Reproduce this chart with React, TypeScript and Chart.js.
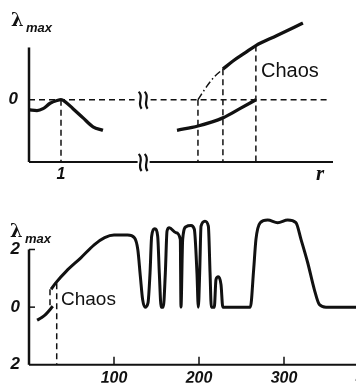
import React, { useEffect, useRef } from 'react';
import { Chart, registerables } from 'chart.js';

Chart.register(...registerables);

// ---------- Top panel (λmax vs r, with axis break) ----------
const topLeftR = [0, 0.25, 0.44, 0.66, 0.875, 1.0, 1.125, 1.375, 1.69, 2.0, 2.31];
const topLeftL = [-0.37, -0.4, -0.33, -0.13, -0.03, 0, -0.07, -0.33, -0.67, -1.0, -1.13];
const topLowR = [4.625, 5.28, 6.06, 6.59, 7.09];
const topLowL = [-1.13, -0.97, -0.67, -0.33, 0];
const topDashDotR = [5.28, 5.56, 5.81, 6.06];
const topDashDotL = [0, 0.5, 0.87, 1.13];
const topUpR = [6.06, 6.375, 6.75, 7.09, 7.75, 8.56];
const topUpL = [1.13, 1.43, 1.73, 2.0, 2.37, 2.83];
const topMarkR = [1.0, 5.28, 6.06, 7.09];
const topMarkL = [0, 0, 1.13, 2.0];
const topTickR = [1];
const topTickL = [0];

// ---------- Bottom panel (λmax vs parameter) ----------
const botLowX = [9.5, 15, 20, 28];
const botLowY = [-0.45, -0.36, -0.24, 0.03];
const botX = [26, 32, 44, 61, 77, 89, 100, 116, 124, 128, 131, 133.7, 136.5, 140, 142.4, 144.3, 148, 151.4, 153.3, 155.5, 158, 160.4, 162.4, 165, 173, 178, 178.8, 180.8, 184.7, 190.6, 194.5, 197.6, 199.2, 200.8, 202.4, 207, 211, 213, 214.5, 218, 220, 222.7, 225.9, 228, 260.4, 264.3, 267, 272, 280.8, 292.6, 304.3, 314, 320, 327.9, 335.7, 341.6, 349.4, 440];
const botY = [0.62, 0.86, 1.25, 1.71, 2.17, 2.41, 2.5, 2.5, 2.41, 2.0, 1.07, 0.26, 0, 0.15, 1.19, 2.46, 2.72, 2.46, 1.19, 0, 0, 1.19, 2.64, 2.75, 2.58, 2.35, 0, 2.35, 2.79, 2.83, 2.7, 1.19, 0, 1.19, 2.81, 2.98, 2.81, 1.19, 0, 0, 0.96, 1.05, 0.78, 0, 0, 1.3, 2.35, 2.93, 3.02, 2.93, 3.02, 2.93, 2.35, 1.54, 0.61, 0.09, 0, 0];
const botJumpX = [24.7, 32.6];
const botJumpTop = [0.62, 0.83];
const botJumpBottom = [0, -2];
const botTickX = [100, 200, 300, 400];
const botTickY = [-2, 0, 2];

const INK = '#111';
const pts = (xs: number[], ys: number[]) => xs.map((x, i) => ({ x, y: ys[i] }));

const curve = (data: any, extra: any = {}) => ({
  data,
  borderColor: INK,
  borderWidth: 3.3,
  pointRadius: 0,
  cubicInterpolationMode: 'monotone',
  fill: false,
  ...extra,
});
const dashed = (data: any) => ({
  data,
  borderColor: INK,
  borderWidth: 1.5,
  borderDash: [6, 4],
  pointRadius: 0,
  tension: 0,
  fill: false,
});

function drawBreak(ctx: CanvasRenderingContext2D, x: number, y: number) {
  ctx.save();
  ctx.fillStyle = '#fff';
  ctx.fillRect(x - 5, y - 3, 12, 6);
  ctx.strokeStyle = INK;
  ctx.lineWidth = 2.2;
  for (const dx of [-2, 4]) {
    ctx.beginPath();
    ctx.moveTo(x + dx - 2, y - 8);
    ctx.bezierCurveTo(x + dx + 4, y - 3, x + dx - 4, y + 3, x + dx + 1, y + 9);
    ctx.stroke();
  }
  ctx.restore();
}

function lambda(ctx: CanvasRenderingContext2D, x: number, y: number) {
  ctx.save();
  ctx.fillStyle = INK;
  ctx.textBaseline = 'alphabetic';
  ctx.font = 'bold 18px "DejaVu Serif"';
  ctx.fillText('λ', x, y);
  ctx.font = 'bold italic 13px "Liberation Sans"';
  ctx.fillText('max', x + 15, y + 6);
  ctx.restore();
}

const topPlugin = {
  id: 'topDecor',
  beforeDatasetsDraw(chart: any) {
    const { ctx, scales } = chart;
    const xs = scales.x, ys = scales.y;
    const x0 = xs.getPixelForValue(0);
    const yb = ys.getPixelForValue(-2.3);
    ctx.save();
    ctx.strokeStyle = INK;
    ctx.lineWidth = 2.5;
    ctx.beginPath();
    ctx.moveTo(x0, ys.getPixelForValue(1.93));
    ctx.lineTo(x0, yb);
    ctx.stroke();
    ctx.lineWidth = 2;
    ctx.beginPath();
    ctx.moveTo(x0, yb);
    ctx.lineTo(xs.getPixelForValue(9.5), yb);
    ctx.stroke();
    ctx.restore();
    const bx = xs.getPixelForValue(3.55);
    drawBreak(ctx, bx, yb);
    drawBreak(ctx, bx, ys.getPixelForValue(0));
  },
  afterDraw(chart: any) {
    const { ctx } = chart;
    lambda(ctx, 11, 26);
    ctx.save();
    ctx.fillStyle = INK;
    ctx.font = '20px "Liberation Sans"';
    ctx.textBaseline = 'middle';
    ctx.fillText('Chaos', 261, 71);
    ctx.font = 'italic bold 21px "Liberation Serif"';
    ctx.fillText('r', 316, 175);
    ctx.restore();
  },
};

const botPlugin = {
  id: 'botDecor',
  beforeDatasetsDraw(chart: any) {
    const { ctx, scales } = chart;
    const xs = scales.x, ys = scales.y;
    const x0 = xs.getPixelForValue(0);
    const yb = ys.getPixelForValue(-2);
    ctx.save();
    ctx.strokeStyle = INK;
    ctx.lineWidth = 2.5;
    ctx.beginPath();
    ctx.moveTo(x0, ys.getPixelForValue(2));
    ctx.lineTo(x0, yb);
    ctx.stroke();
    ctx.lineWidth = 2;
    ctx.beginPath();
    ctx.moveTo(x0, yb);
    ctx.lineTo(chart.width, yb);
    ctx.stroke();
    ctx.lineWidth = 1.5;
    for (const v of botTickX) {
      const px = xs.getPixelForValue(v);
      ctx.beginPath();
      ctx.moveTo(px, yb);
      ctx.lineTo(px, yb - 8);
      ctx.stroke();
    }
    for (const v of [0, 2]) {
      const py = ys.getPixelForValue(v);
      ctx.beginPath();
      ctx.moveTo(x0, py);
      ctx.lineTo(x0 + 6, py);
      ctx.stroke();
    }
    ctx.restore();
  },
  afterDraw(chart: any) {
    const { ctx } = chart;
    lambda(ctx, 10, 47);
    ctx.save();
    ctx.fillStyle = INK;
    ctx.font = '19px "Liberation Sans"';
    ctx.textBaseline = 'middle';
    ctx.fillText('Chaos', 61, 110);
    ctx.restore();
  },
};

const tickFont = { family: '"Liberation Sans"', size: 16, weight: 'bold' as const, style: 'italic' as const };
const yTickFont = { family: '"Liberation Sans"', size: 17, weight: 'bold' as const, style: 'italic' as const };

export default function App() {
  const topRef = useRef<HTMLCanvasElement>(null);
  const botRef = useRef<HTMLCanvasElement>(null);

  useEffect(() => {
    const top = new Chart(topRef.current as HTMLCanvasElement, {
      type: 'line',
      data: {
        datasets: [
          curve(pts(topLeftR, topLeftL)),
          curve(pts(topLowR, topLowL)),
          curve(pts(topUpR, topUpL)),
          { ...dashed(pts(topDashDotR, topDashDotL)), borderDash: [7, 3, 1.5, 3], cubicInterpolationMode: 'monotone' },
          ...topMarkR.map((r, i) => dashed([{ x: r, y: topMarkL[i] }, { x: r, y: -2.3 }])),
          dashed([{ x: 0, y: 0 }, { x: 3.3, y: 0 }, { x: 3.55, y: null }, { x: 3.8, y: 0 }, { x: 9.35, y: 0 }]),
        ] as any,
      },
      options: {
        responsive: false,
        animation: false,
        events: [],
        layout: { padding: { left: 0, right: 23, top: 6, bottom: 0 } },
        plugins: { legend: { display: false }, tooltip: { enabled: false } },
        scales: {
          x: {
            type: 'linear', min: 0, max: 9.5,
            grid: { display: false, drawTicks: false }, border: { display: false },
            ticks: { font: tickFont, color: INK, padding: 3 },
            afterBuildTicks: (s: any) => { s.ticks = topTickR.map((v) => ({ value: v })); },
            afterFit: (s: any) => { s.height = 28; },
          },
          y: {
            type: 'linear', min: -2.3, max: 2.9,
            grid: { display: false, drawTicks: false }, border: { display: false },
            ticks: { font: yTickFont, color: INK, padding: 11 },
            afterBuildTicks: (s: any) => { s.ticks = topTickL.map((v) => ({ value: v })); },
            afterFit: (s: any) => { s.width = 29; },
          },
        },
      } as any,
      plugins: [topPlugin],
    });

    const bot = new Chart(botRef.current as HTMLCanvasElement, {
      type: 'line',
      data: {
        datasets: [
          curve(pts(botLowX, botLowY), { borderWidth: 3 }),
          curve(pts(botX, botY), { borderWidth: 3 }),
          ...botJumpX.map((x, i) => dashed([{ x, y: botJumpTop[i] }, { x, y: botJumpBottom[i] }])),
        ] as any,
      },
      options: {
        responsive: false,
        animation: false,
        events: [],
        layout: { padding: { left: 0, right: 0, top: 22, bottom: 0 } },
        plugins: { legend: { display: false }, tooltip: { enabled: false } },
        scales: {
          x: {
            type: 'linear', min: 0, max: 440,
            grid: { display: false, drawTicks: false }, border: { display: false },
            ticks: { font: tickFont, color: INK, padding: 4 },
            afterBuildTicks: (s: any) => { s.ticks = botTickX.map((v) => ({ value: v })); },
            afterFit: (s: any) => { s.height = 18; },
          },
          y: {
            type: 'linear', min: -2, max: 3.3,
            grid: { display: false, drawTicks: false }, border: { display: false },
            ticks: { font: yTickFont, color: INK, padding: 9, callback: (v: any) => String(Math.abs(v)) },
            afterBuildTicks: (s: any) => { s.ticks = botTickY.map((v) => ({ value: v })); },
            afterFit: (s: any) => { s.width = 29; },
          },
        },
      } as any,
      plugins: [botPlugin],
    });

    return () => {
      top.destroy();
      bot.destroy();
    };
  }, []);

  return (
    <div style={{ position: 'fixed', left: 0, top: 0, width: 356, height: 384, overflow: 'hidden', background: '#fff' }}>
      <canvas ref={topRef} width={356} height={190} style={{ position: 'absolute', left: 0, top: 0, display: 'block' }} />
      <canvas ref={botRef} width={403} height={194} style={{ position: 'absolute', left: 0, top: 190, display: 'block' }} />
    </div>
  );
}
